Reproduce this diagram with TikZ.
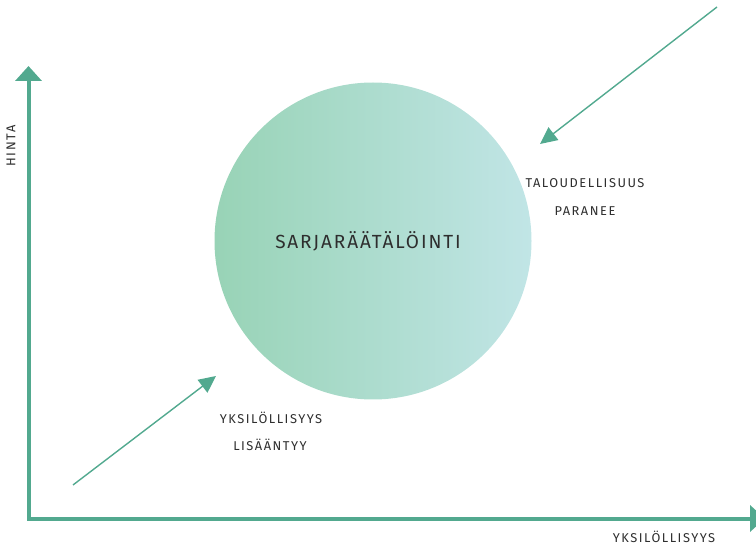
\documentclass[tikz,border=0pt]{standalone}
\usepackage{fontspec}
\setmainfont{Fira Sans}
\newfontfamily\labelfont{Fira Sans}[LetterSpace=12]
\newfontfamily\titlefont{Fira Sans}[LetterSpace=10]
\usetikzlibrary{arrows.meta}
\definecolor{axisgreen}{HTML}{52A98F}
\definecolor{inkgray}{HTML}{2E2E2E}
\definecolor{blobleft}{HTML}{98D3B6}
\definecolor{blobright}{HTML}{C1E5E6}
\tikzset{
  axis/.style={draw=axisgreen, line width=4pt, line join=miter,
    {Triangle[width=26pt,length=15pt]}-{Triangle[width=26pt,length=15pt]}},
  trend/.style={draw=axisgreen, line width=1.4pt,
    -{Triangle[width=16pt,length=17pt]}},
  smalltext/.style={text=inkgray, font=\labelfont\fontsize{12.8}{15}\selectfont, inner sep=0pt},
}
\begin{document}
\begin{tikzpicture}[x=1pt, y=-1pt]
  \useasboundingbox (0,0) rectangle (756,548);
  % axes
  \coordinate (ytop) at (28.5,66);
  \coordinate (origin) at (28.5,518.5);
  \coordinate (xend) at (765,518.5);
  \draw[axis] (ytop) -- (origin) -- (xend);
  % the blob
  \node[circle, minimum size=317pt, inner sep=0pt, left color=blobleft, right color=blobright]
    (blob) at (373,241) {};
  \node[text=inkgray, font=\titlefont\fontsize{19}{21}\selectfont, inner sep=0pt]
    (blobtext) at (368,241) {SARJARÄÄTÄLÖINTI};
  % trend arrows
  \coordinate (econstart) at (717,7);
  \coordinate (econend) at (540,144);
  \draw[trend] (econstart) -- (econend);
  \coordinate (indstart) at (73,485);
  \coordinate (indend) at (216,376);
  \draw[trend] (indstart) -- (indend);
  % labels
  \node[smalltext] (econ1) at (585,183) {TALOUDELLISUUS};
  \node[smalltext] (econ2) at (585,211) {PARANEE};
  \node[smalltext] (ind1) at (271,418) {YKSILÖLLISYYS};
  \node[smalltext] (ind2) at (270,445) {LISÄÄNTYY};
  \node[smalltext] (xlabel) at (664,537) {YKSILÖLLISYYS};
  \node[smalltext, rotate=90] (ylabel) at (11,146) {HINTA};
\end{tikzpicture}
\end{document}
